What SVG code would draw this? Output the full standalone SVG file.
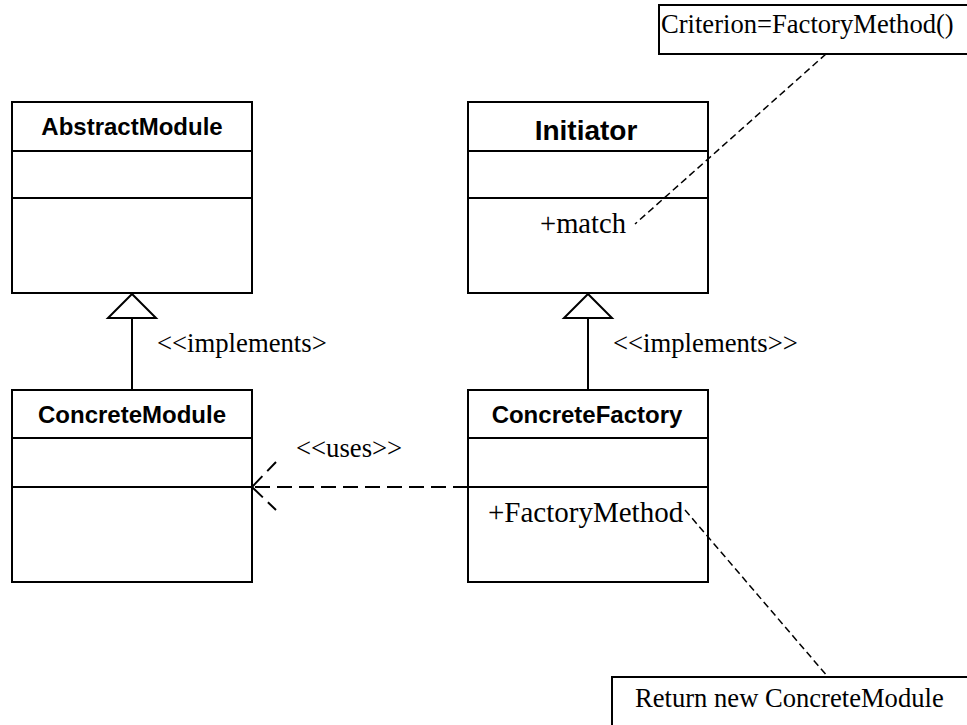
<svg xmlns="http://www.w3.org/2000/svg" width="967" height="725" viewBox="0 0 967 725">
<style>
.box{fill:#fff;stroke:#000;stroke-width:2}
.ln{stroke:#000;stroke-width:2;fill:none}
.hd{font-family:"Liberation Sans",Arial,sans-serif;font-weight:bold;text-anchor:middle;fill:#000}
.tx{font-family:"Liberation Serif","Times New Roman",serif;fill:#000}
.note{stroke:#000;stroke-width:1.5;stroke-dasharray:7 4;fill:none}
.dep{stroke:#000;stroke-width:2;stroke-dasharray:15 7;fill:none}
.tri{fill:#fff;stroke:#000;stroke-width:2}
</style>
<rect width="967" height="725" fill="#fff"/>
<g id="AbstractModule">
<rect class="box" x="12" y="102" width="240" height="191"/>
<line class="ln" x1="12" y1="151" x2="252" y2="151"/>
<line class="ln" x1="12" y1="198" x2="252" y2="198"/>
<text class="hd" x="132" y="135" font-size="24">AbstractModule</text>
</g>
<g id="Initiator">
<rect class="box" x="468" y="102" width="240" height="191"/>
<line class="ln" x1="468" y1="151" x2="708" y2="151"/>
<line class="ln" x1="468" y1="198" x2="708" y2="198"/>
<text class="hd" x="586" y="140" font-size="28">Initiator</text>
<text class="tx" x="540" y="233" font-size="28.6">+match</text>
</g>
<g id="ConcreteModule">
<rect class="box" x="12" y="390" width="240" height="192"/>
<line class="ln" x1="12" y1="438" x2="252" y2="438"/>
<line class="ln" x1="12" y1="487" x2="252" y2="487"/>
<text class="hd" x="132" y="423" font-size="24">ConcreteModule</text>
</g>
<g id="ConcreteFactory">
<rect class="box" x="468" y="390" width="240" height="192"/>
<line class="ln" x1="468" y1="438" x2="708" y2="438"/>
<line class="ln" x1="468" y1="487" x2="708" y2="487"/>
<text class="hd" x="587" y="423" font-size="24">ConcreteFactory</text>
<text class="tx" x="488" y="522" font-size="29">+FactoryMethod</text>
</g>
<g id="note-criterion">
<path class="ln" d="M969,5 H659 V54 H969" stroke-width="1.5"/>
<text class="tx" x="661" y="33" font-size="26.6">Criterion=FactoryMethod()</text>
</g>
<g id="note-return">
<path class="ln" d="M612,727 V677 H969" stroke-width="1.5"/>
<text class="tx" x="635" y="707" font-size="26.6">Return new ConcreteModule</text>
</g>
<g id="connectors">
<line class="ln" x1="132" y1="318" x2="132" y2="390"/>
<polygon class="tri" points="132,294 108,318 156,318"/>
<line class="ln" x1="588" y1="318" x2="588" y2="390"/>
<polygon class="tri" points="588,294 564,318 612,318"/>
<line class="dep" x1="468" y1="487" x2="252" y2="487"/>
<line class="dep" x1="252" y1="487" x2="276" y2="462" stroke-dasharray="12 5"/>
<line class="dep" x1="252" y1="487" x2="276" y2="510" stroke-dasharray="12 5"/>
<line class="note" x1="826" y1="54" x2="635" y2="224"/>
<line class="note" x1="685" y1="510" x2="828" y2="677"/>
<text class="tx" x="157" y="352" font-size="26.7">&lt;&lt;implements&gt;</text>
<text class="tx" x="613" y="352" font-size="26.7">&lt;&lt;implements&gt;&gt;</text>
<text class="tx" x="296" y="457" font-size="26.7">&lt;&lt;uses&gt;&gt;</text>
</g>
</svg>
